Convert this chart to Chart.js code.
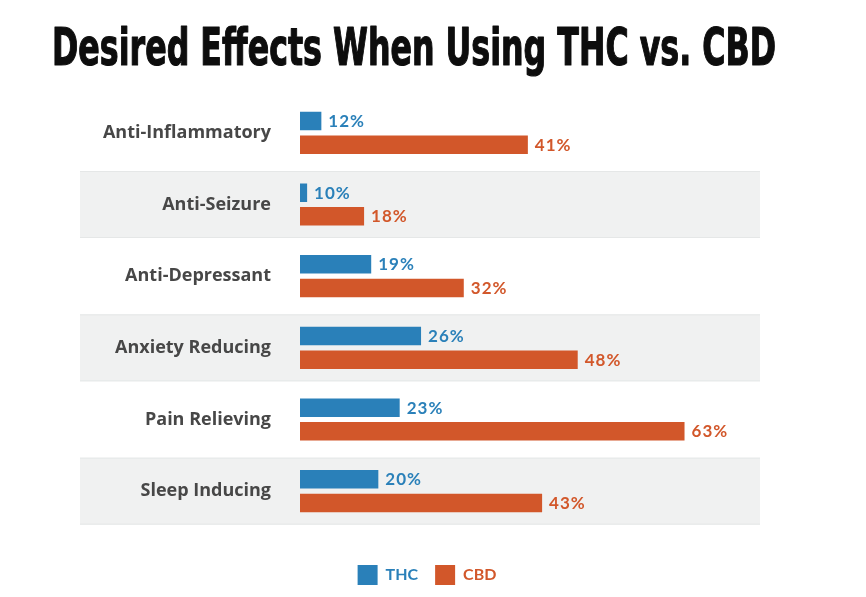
<!DOCTYPE html>
<html>
<head>
<meta charset="utf-8">
<script src="https://cdn.jsdelivr.net/npm/chart.js@4/dist/chart.umd.min.js"></script>
<style>
  html, body { margin: 0; padding: 0; background: #ffffff; }
  #wrap { position: relative; width: 866px; height: 597px; }
</style>
</head>
<body>
<div id="wrap"><canvas id="c"></canvas></div>
<script>
const chartTitle = 'Desired Effects When Using THC vs. CBD';
const categories = ['Anti-Inflammatory', 'Anti-Seizure', 'Anti-Depressant', 'Anxiety Reducing', 'Pain Relieving', 'Sleep Inducing'];
const seriesNames = ['THC', 'CBD'];
const thcValues = [12, 10, 19, 26, 23, 20];
const cbdValues = [41, 18, 32, 48, 63, 43];

const BLUE = '#2a80b9';
const ORANGE = '#d2572a';

const titlePlugin = {
  id: 'customTitle',
  afterDraw(chart, args, opts) {
    const ctx = chart.ctx;
    ctx.save();
    ctx.font = 'bold 51px "DejaVu Sans Condensed", "Liberation Sans Narrow", sans-serif';
    ctx.fillStyle = '#0d0d0d';
    ctx.strokeStyle = '#0d0d0d';
    ctx.lineWidth = 1.2;
    ctx.lineJoin = 'round';
    ctx.textBaseline = 'alphabetic';
    ctx.textAlign = 'left';
    const w = ctx.measureText(opts.text).width;
    const sx = opts.width / w;
    ctx.translate(opts.x, opts.y);
    ctx.scale(sx, 1);
    ctx.fillText(opts.text, 0, 0);
    ctx.strokeText(opts.text, 0, 0);
    ctx.restore();
  }
};

const bandPlugin = {
  id: 'bands',
  beforeDraw(chart, args, opts) {
    const ctx = chart.ctx;
    const y = chart.scales.y;
    ctx.save();
    for (let i = 0; i < categories.length; i++) {
      if (i % 2 === 1) {
        const cy = y.getPixelForValue(i);
        const top = cy - opts.halfHeight;
        const h = opts.halfHeight * 2;
        ctx.fillStyle = opts.fill;
        ctx.fillRect(opts.left, top, opts.right - opts.left, h);
        ctx.fillStyle = opts.edge;
        ctx.fillRect(opts.left, top, opts.right - opts.left, 1);
        ctx.fillRect(opts.left, top + h - 1, opts.right - opts.left, 1);
      }
    }
    ctx.restore();
  }
};

const valueLabelPlugin = {
  id: 'valueLabels',
  afterDatasetsDraw(chart) {
    const ctx = chart.ctx;
    ctx.save();
    ctx.font = 'bold 17px Lato, "Open Sans", sans-serif';
    if ('letterSpacing' in ctx) ctx.letterSpacing = '1px';
    ctx.textBaseline = 'middle';
    ctx.textAlign = 'left';
    chart.data.datasets.forEach((ds, di) => {
      const meta = chart.getDatasetMeta(di);
      ctx.fillStyle = ds.backgroundColor;
      meta.data.forEach((el, i) => {
        ctx.fillText(ds.data[i] + '%', el.x + 7, el.y + 0.5);
      });
    });
    ctx.restore();
  }
};

new Chart(document.getElementById('c'), {
  type: 'bar',
  data: {
    labels: categories,
    datasets: [
      { label: seriesNames[0], data: thcValues, backgroundColor: BLUE, borderWidth: 0 },
      { label: seriesNames[1], data: cbdValues, backgroundColor: ORANGE, borderWidth: 0 }
    ]
  },
  options: {
    indexAxis: 'y',
    responsive: true,
    maintainAspectRatio: false,
    animation: false,
    events: [],
    layout: { padding: { top: 97, left: 0, right: 12, bottom: 2 } },
    datasets: { bar: { barPercentage: 0.78, categoryPercentage: 0.662 } },
    scales: {
      x: {
        min: 9,
        max: 86.8,
        display: true,
        grid: { display: false },
        border: { display: false },
        ticks: { display: false },
        afterFit(s) { s.height = 21; }
      },
      y: {
        grid: { display: false },
        border: { display: false },
        ticks: {
          autoSkip: false,
          color: '#474747',
          padding: 21,
          font: { family: '"Open Sans", Lato, sans-serif', size: 18, weight: 'bold' }
        },
        afterFit(s) { s.width = 300; }
      }
    },
    plugins: {
      title: { display: false },
      tooltip: { enabled: false },
      customTitle: { text: chartTitle, x: 52, y: 65, width: 724 },
      bands: { left: 80, right: 760, halfHeight: 33.5, fill: '#f0f1f1', edge: '#e5e7e7' },
      legend: {
        display: true,
        position: 'bottom',
        align: 'center',
        labels: {
          boxWidth: 20,
          boxHeight: 20,
          padding: 17,
          font: { family: 'Lato, "Open Sans", sans-serif', size: 16, weight: 'bold' },
          generateLabels(chart) {
            const items = Chart.defaults.plugins.legend.labels.generateLabels(chart);
            items.forEach(it => {
              const c = chart.data.datasets[it.datasetIndex].backgroundColor;
              it.fontColor = c;
              it.fillStyle = c;
              it.strokeStyle = c;
              it.lineWidth = 0;
            });
            return items;
          }
        }
      }
    }
  },
  plugins: [titlePlugin, bandPlugin, valueLabelPlugin]
});
</script>
</body>
</html>
